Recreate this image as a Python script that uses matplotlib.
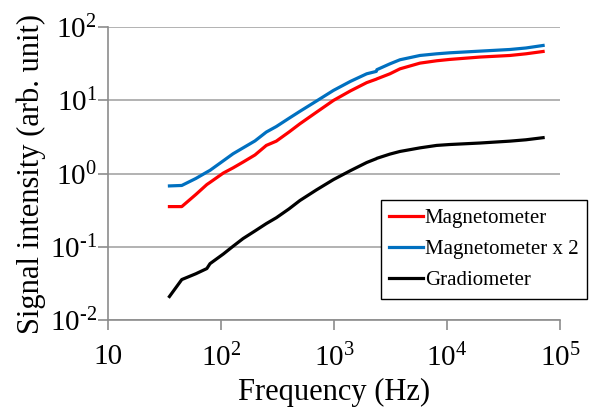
import math
import matplotlib.pyplot as plt
from matplotlib.ticker import FixedLocator, FuncFormatter, NullLocator

plt.rcParams['font.family'] = 'Liberation Serif'
plt.rcParams['mathtext.fontset'] = 'custom'
plt.rcParams['mathtext.rm'] = 'Liberation Serif'

# Frequency (Hz)
freq = [35, 45, 60, 75, 80, 105, 128, 157, 200, 252, 309, 400, 500, 700, 990, 1400,
        1950, 2370, 2400, 3130, 3840, 5770, 8110, 10600, 19600, 36100, 50000, 71000]
# Signal intensity (arb. unit)
magnetometer = [0.355, 0.355, 0.52, 0.71, 0.76, 1.02, 1.2, 1.44, 1.8, 2.43, 2.78, 3.7, 4.8,
                6.9, 10.0, 13.5, 17.5, 19.5, 19.7, 23.1, 27.0, 32.3, 34.8, 36.3, 39.1,
                41.1, 43.3, 46.6]
magnetometer_x2 = [0.68, 0.69, 0.86, 1.05, 1.11, 1.5, 1.87, 2.25, 2.8, 3.7, 4.4, 5.7, 7.1,
                   9.8, 13.7, 18.2, 23.1, 24.9, 26.3, 31.6, 35.9, 41.1, 43.3, 44.7, 47.1,
                   49.6, 52.0, 56.3]
gradiometer = [0.021, 0.0358, 0.043, 0.0506, 0.059, 0.08, 0.102, 0.13, 0.165, 0.208, 0.25,
               0.33, 0.43, 0.6, 0.83, 1.1, 1.42, 1.6, 1.62, 1.85, 2.01, 2.25, 2.43, 2.5,
               2.62, 2.78, 2.9, 3.1]

fig = plt.figure(figsize=(5.9, 4.12), dpi=100)
ax = fig.add_axes([0.183, 0.223, 0.766, 0.711])

ax.plot(freq, magnetometer, color='#ff0000', lw=2.3, label='Magnetometer')
ax.plot(freq, magnetometer_x2, color='#0070c0', lw=2.3, label='Magnetometer x 2')
ax.plot(freq, gradiometer, color='black', lw=2.3, label='Gradiometer')

ax.set_xscale('log')
ax.set_yscale('log')
ax.set_xlim(10, 1e5)
ax.set_ylim(1e-2, 1e2)

ax.xaxis.set_major_locator(FixedLocator([10, 1e2, 1e3, 1e4, 1e5]))
ax.yaxis.set_major_locator(FixedLocator([1e-2, 1e-1, 1, 10, 100]))
ax.xaxis.set_minor_locator(NullLocator())
ax.yaxis.set_minor_locator(NullLocator())


def pow10(v, pos):
    e = int(round(math.log10(v)))
    if e < 0:
        return r'$\mathregular{10^{\text{-}%d}}$' % -e
    return r'$\mathregular{10^{%d}}$' % e


def fmt_x(v, pos):
    return '10' if round(v) == 10 else pow10(v, pos)


ax.xaxis.set_major_formatter(FuncFormatter(fmt_x))
ax.yaxis.set_major_formatter(FuncFormatter(pow10))

ax.grid(axis='y', color='#a6a6a6', lw=1.2)
ax.set_axisbelow(True)
for s in ['top', 'right']:
    ax.spines[s].set_visible(False)
for s in ['left', 'bottom']:
    ax.spines[s].set_color('#8c8c8c')
    ax.spines[s].set_linewidth(1.2)
ax.tick_params(axis='both', colors='#8c8c8c', labelcolor='black', labelsize=21,
               length=7, width=1.2, direction='out')
ax.tick_params(axis='x', pad=10)
ax.tick_params(axis='y', pad=1)

ax.set_xlabel('Frequency (Hz)', fontsize=22, labelpad=4)
ax.set_ylabel('Signal intensity (arb. unit)', fontsize=22, labelpad=3)

leg = fig.legend(loc='lower right', bbox_to_anchor=(0.995, 0.274), fontsize=15,
                 frameon=True, fancybox=False, edgecolor='black', framealpha=1,
                 handlelength=1.6, handletextpad=0.1, borderpad=0.42, labelspacing=0.55,
                 borderaxespad=0)
leg.get_frame().set_linewidth(1.0)

fig.savefig('out.png', dpi=100)
